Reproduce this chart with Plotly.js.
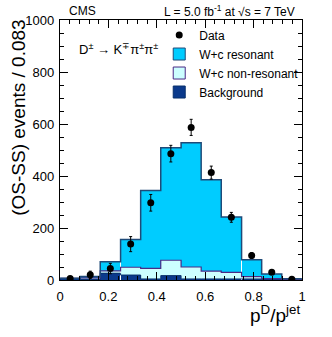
<!DOCTYPE html>
<html>
<head>
<meta charset="utf-8">
<script src="https://cdn.plot.ly/plotly-3.0.1.min.js"></script>
<style>
  html, body { margin: 0; padding: 0; background: #fff; }
  #chart { width: 332px; height: 337px; }
</style>
</head>
<body>
<div id="chart"></div>
<script>
// bin centres of p^D/p^jet (12 bins of width 1/12)
var binCenters = [0.042, 0.125, 0.208, 0.292, 0.375, 0.458, 0.542, 0.625, 0.708, 0.792, 0.875, 0.958];
var binWidth = 1 / 12;

// stacked components (events / bin)
var bgVals = [5, 3, 26, 19, 4, 17, 4, 4, 4, 4, 3, 2];
var nonresVals = [1, 5, 9, 30, 41, 59, 46, 30, 25, 9, 2, 0];
var resVals = [1, 5, 35, 107, 299, 433, 478, 352, 213, 65, 18, 3];

// OS-SS data with errors
var dataVals = [6, 20, 44, 138, 297, 486, 587, 413, 241, 94, 30, 3];
var dataErr = [5, 14, 20, 29, 32, 32, 31, 25, 19, 11, 7, 5];

var font = 'Liberation Sans, Arial, sans-serif';

// step outline helpers (built from the arrays above)
var edges = binCenters.map(function(c) { return c - binWidth / 2; });
edges.push(binCenters[binCenters.length - 1] + binWidth / 2);

function cumulate(lists) {
    var out = [];
    for (var i = 0; i < binCenters.length; i++) {
        var s = 0;
        lists.forEach(function(l) { s += l[i]; });
        out.push(s);
    }
    out.push(out[out.length - 1]);
    return out;
}

// outline only on the first bar so the legend box gets a border
function firstOnly(w) {
    return binCenters.map(function(c, i) { return i === 0 ? w : 0; });
}

var bgTop = cumulate([bgVals]);
var nonresTop = cumulate([bgVals, nonresVals]);
var totalTop = cumulate([bgVals, nonresVals, resVals]);

var traces = [{
    type: 'bar', x: binCenters, y: bgVals, width: binWidth,
    name: 'Background',
    marker: { color: '#0b3a8c', line: { width: firstOnly(1), color: '#08306b' } }
}, {
    type: 'bar', x: binCenters, y: nonresVals, width: binWidth,
    name: 'W+c non-resonant',
    marker: { color: '#ccffff', line: { width: firstOnly(1), color: '#4a2a86' } }
}, {
    type: 'bar', x: binCenters, y: resVals, width: binWidth,
    name: 'W+c resonant',
    marker: { color: '#00ccff', line: { width: firstOnly(1), color: '#1f4a78' } }
}, {
    type: 'scatter', mode: 'lines', x: edges, y: bgTop, showlegend: false, hoverinfo: 'skip',
    line: { shape: 'hv', color: '#08306b', width: 1 }
}, {
    type: 'scatter', mode: 'lines', x: edges, y: nonresTop, showlegend: false, hoverinfo: 'skip',
    line: { shape: 'hv', color: '#4a2a86', width: 1.2 }
}, {
    type: 'scatter', mode: 'lines', x: edges, y: totalTop, showlegend: false, hoverinfo: 'skip',
    line: { shape: 'hv', color: '#1f4a78', width: 1.5 }
}, {
    type: 'scatter', mode: 'markers', x: binCenters, y: dataVals,
    name: 'Data',
    marker: { color: '#000', size: 7 },
    error_y: { type: 'data', array: dataErr, visible: true, color: '#000', thickness: 1, width: 1.5 }
}];

var axisCommon = {
    showline: true, linecolor: '#000', linewidth: 1.2, mirror: 'allticks',
    ticks: 'inside', ticklen: 8, tickcolor: '#000', tickwidth: 1,
    showgrid: false, zeroline: false,
    tickfont: { family: font, size: 13, color: '#000' }
};

var layout = {
    width: 332, height: 337,
    margin: { l: 60, r: 30, t: 20, b: 57 },
    paper_bgcolor: '#fff', plot_bgcolor: '#fff',
    barmode: 'stack', bargap: 0,
    showlegend: true,
    legend: {
        x: 0.41, y: 0.998, xanchor: 'left', yanchor: 'top',
        traceorder: 'reversed', bgcolor: 'rgba(0,0,0,0)',
        font: { family: font, size: 12, color: '#000' },
        tracegroupgap: 0
    },
    xaxis: Object.assign({}, axisCommon, {
        range: [0, 1], dtick: 0.2, tick0: 0,
        minor: { dtick: 0.04, ticks: 'inside', ticklen: 4, tickcolor: '#000', showgrid: false },
        ticklabelstandoff: 4
    }),
    yaxis: Object.assign({}, axisCommon, {
        range: [0, 1000], dtick: 200, tick0: 0,
        minor: { dtick: 50, ticks: 'inside', ticklen: 4, tickcolor: '#000', showgrid: false },
        ticklabelstandoff: 2
    }),
    annotations: [{
        text: 'CMS', xref: 'paper', yref: 'paper', x: 0.029, y: 1.035,
        xanchor: 'left', yanchor: 'middle', showarrow: false,
        font: { family: font, size: 12, color: '#000' }
    }, {
        text: 'L = 5.0 fb<sup>-1</sup> at √s = 7 TeV', xref: 'paper', yref: 'paper', x: 0.98, y: 1.035,
        xanchor: 'right', yanchor: 'middle', showarrow: false,
        font: { family: font, size: 12, color: '#000' }
    }, {
        text: 'D<sup>±</sup> → K<sup>∓</sup>π<sup>±</sup>π<sup>±</sup>', xref: 'paper', yref: 'paper', x: 0.07, y: 0.89,
        xanchor: 'left', yanchor: 'middle', showarrow: false,
        font: { family: font, size: 13, color: '#000' }
    }, {
        text: '(OS-SS) events / 0.083', xref: 'paper', yref: 'paper', x: -0.17, y: 1.008,
        xanchor: 'center', yanchor: 'top', textangle: -90, showarrow: false,
        font: { family: font, size: 19, color: '#000' }
    }, {
        text: 'p<sup>D</sup>/p<sup>jet</sup>', xref: 'paper', yref: 'paper', x: 1.0, y: -0.075,
        xanchor: 'right', yanchor: 'top', showarrow: false,
        font: { family: font, size: 19, color: '#000' }
    }]
};

Plotly.newPlot('chart', traces, layout, { staticPlot: true, displayModeBar: false });
</script>
</body>
</html>
